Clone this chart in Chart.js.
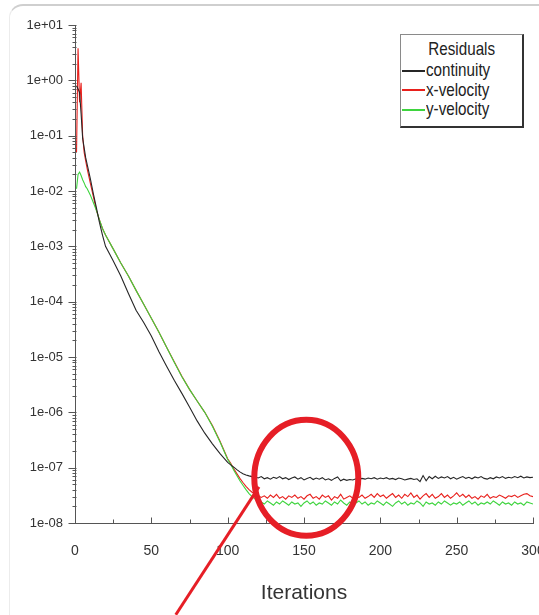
<!DOCTYPE html>
<html>
<head>
<meta charset="utf-8">
<title>Residuals</title>
<script src="https://cdn.jsdelivr.net/npm/chart.js@4.4.1/dist/chart.umd.min.js"></script>
<style>
  html, body { margin: 0; padding: 0; background: #fff; }
  #wrap { position: relative; width: 539px; height: 615px; overflow: hidden; }
  #card {
    position: absolute; left: 9px; top: 4px; width: 600px; height: 700px;
    border-top: 2px solid #cfcfcf; border-left: 1px solid #ececec;
    border-radius: 14px 0 0 0;
  }
  #chart-box { position: absolute; left: 0; top: 0; width: 539px; height: 615px; }
  #legend {
    position: absolute; left: 400px; top: 34px; width: 121px; height: 87px;
    background: #fff; border: 1px solid #8a8a8a;
    border-right: 2px solid #333; border-bottom: 2px solid #333;
    font-family: "Liberation Sans", Arial, sans-serif;
    font-size: 19px; color: #222; padding-top: 4px; box-sizing: content-box;
  }
  #legend .ttl { text-align: center; line-height: 20px; height: 20px; margin-bottom: 1px; }
  #legend .ttl span { display: inline-block; transform: scaleX(0.8); }
  #legend .row { line-height: 19.5px; height: 19.5px; white-space: nowrap; padding-left: 1px; }
  #legend .sw { display: inline-block; width: 23px; height: 2px; vertical-align: middle; margin-right: 1px; }
  #legend .lbl { display: inline-block; transform: scaleX(0.8); transform-origin: 0 50%; }
</style>
</head>
<body>
<div id="wrap">
  <div id="card"></div>
  <div id="chart-box"><canvas id="residuals"></canvas></div>
  <div id="legend"></div>
</div>
<script>
// ── Data ────────────────────────────────────────────
const LEGEND_TITLE = "Residuals";
const X_TITLE = "Iterations";

const iterations = [
  1, 2, 3, 4, 5, 6, 7, 8, 10, 12,
  14, 16, 18, 20, 25, 30, 35, 40, 45, 50,
  55, 60, 65, 70, 75, 80, 85, 90, 95,
  100, 102, 104, 106, 108, 110, 112, 114, 116, 118,
  120, 122, 124, 126, 128, 130, 132, 134, 136, 138,
  140, 142, 144, 146, 148, 150, 152, 154, 156, 158,
  160, 162, 164, 166, 168, 170, 172, 174, 176, 178,
  180, 182, 184, 186, 188, 190, 192, 194, 196, 198,
  200, 202, 204, 206, 208, 210, 212, 214, 216, 218,
  220, 222, 224, 226, 228, 230, 232, 234, 236, 238,
  240, 242, 244, 246, 248, 250, 252, 254, 256, 258,
  260, 262, 264, 266, 268, 270, 272, 274, 276, 278,
  280, 282, 284, 286, 288, 290, 292, 294, 296, 298,
  300,
];

const continuity = [
  0.8, 0.7, 0.6, 0.25, 0.09, 0.06, 0.04, 0.03, 0.017, 0.009,
  0.005, 0.0027, 0.0016, 0.001, 5.5e-4, 2.9e-4, 1.4e-4, 7e-5, 4.2e-5, 2.4e-5,
  1.25e-5, 6.8e-6, 3.8e-6, 2.2e-6, 1.25e-6, 7e-7, 4.2e-7, 2.7e-7, 1.8e-7,
  1.25e-7, 1.12e-7, 1.02e-7, 9.2e-8, 8.4e-8, 7.8e-8, 7.4e-8, 7.1e-8, 6.9e-8, 6.8e-8,
  6.5e-8, 6.9e-8, 6.3e-8, 6.6e-8, 6.2e-8, 6.7e-8, 6.4e-8, 6.9e-8, 6.3e-8, 6.6e-8,
  6.1e-8, 6.5e-8, 6.8e-8, 6.2e-8, 6.6e-8, 6.0e-8, 6.4e-8, 6.7e-8, 6.1e-8, 6.5e-8,
  6.2e-8, 6.6e-8, 6.0e-8, 6.3e-8, 5.9e-8, 6.4e-8, 6.8e-8, 5.8e-8, 6.2e-8, 5.9e-8,
  6.1e-8, 6.0e-8, 6.3e-8, 6.1e-8, 6.4e-8, 6.2e-8, 6.5e-8, 6.3e-8, 6.6e-8, 6.2e-8,
  6.5e-8, 6.3e-8, 6.6e-8, 6.2e-8, 6.4e-8, 6.1e-8, 6.5e-8, 6.3e-8, 6.0e-8, 6.2e-8,
  6.4e-8, 6.1e-8, 6.3e-8, 5.6e-8, 7.2e-8, 5.8e-8, 6.9e-8, 6.3e-8, 7.0e-8, 6.4e-8,
  6.8e-8, 6.5e-8, 6.9e-8, 6.3e-8, 6.7e-8, 6.2e-8, 6.6e-8, 6.9e-8, 6.4e-8, 6.7e-8,
  6.3e-8, 6.8e-8, 6.5e-8, 6.9e-8, 6.4e-8, 6.2e-8, 6.6e-8, 6.3e-8, 6.8e-8, 6.5e-8,
  6.9e-8, 6.4e-8, 6.7e-8, 6.5e-8, 6.9e-8, 6.6e-8, 7.0e-8, 6.5e-8, 6.8e-8, 6.6e-8,
  6.7e-8,
];

const xVelocity = [
  0.05, 3.8, 0.4, 0.9, 0.1, 0.05, 0.035, 0.025, 0.014, 0.008,
  0.0045, 0.003, 0.0021, 0.0016, 9e-4, 5e-4, 2.9e-4, 1.6e-4, 9e-5, 5e-5,
  2.8e-5, 1.5e-5, 8.2e-6, 4.5e-6, 2.6e-6, 1.6e-6, 1.0e-6, 5.8e-7, 3.0e-7,
  1.45e-7, 1.2e-7, 9.5e-8, 7.8e-8, 6.4e-8, 5.4e-8, 4.6e-8, 4.0e-8, 3.6e-8, 3.3e-8,
  3.1e-8, 2.9e-8, 3.1e-8, 2.8e-8, 3.2e-8, 2.9e-8, 3.3e-8, 2.8e-8, 3.0e-8, 2.7e-8,
  3.1e-8, 2.9e-8, 3.2e-8, 2.8e-8, 3.0e-8, 2.7e-8, 3.1e-8, 3.3e-8, 2.8e-8, 3.0e-8,
  2.7e-8, 3.2e-8, 2.9e-8, 3.1e-8, 2.6e-8, 3.0e-8, 2.8e-8, 3.3e-8, 2.7e-8, 2.9e-8,
  3.1e-8, 2.8e-8, 3.0e-8, 2.9e-8, 3.2e-8, 2.8e-8, 3.0e-8, 3.3e-8, 2.9e-8, 3.4e-8,
  3.0e-8, 3.2e-8, 2.8e-8, 3.1e-8, 3.4e-8, 2.9e-8, 3.2e-8, 2.8e-8, 3.3e-8, 3.0e-8,
  3.5e-8, 2.9e-8, 3.2e-8, 2.7e-8, 3.1e-8, 3.4e-8, 2.9e-8, 3.3e-8, 2.8e-8, 3.0e-8,
  3.4e-8, 2.9e-8, 3.2e-8, 2.8e-8, 3.1e-8, 3.5e-8, 3.0e-8, 3.3e-8, 2.9e-8, 3.2e-8,
  2.8e-8, 3.0e-8, 2.7e-8, 3.1e-8, 2.9e-8, 3.3e-8, 2.8e-8, 3.0e-8, 2.9e-8, 3.2e-8,
  3.0e-8, 2.8e-8, 3.1e-8, 3.0e-8, 3.2e-8, 2.9e-8, 3.1e-8, 3.3e-8, 3.4e-8, 3.1e-8,
  3.0e-8,
];

const yVelocity = [
  0.011, 0.02, 0.022, 0.019, 0.016, 0.014, 0.012, 0.011, 0.0085, 0.0062,
  0.0045, 0.003, 0.0021, 0.0016, 9e-4, 5e-4, 2.9e-4, 1.6e-4, 9e-5, 5e-5,
  2.8e-5, 1.5e-5, 8e-6, 4.4e-6, 2.6e-6, 1.6e-6, 1.0e-6, 5.6e-7, 2.9e-7,
  1.4e-7, 1.15e-7, 9e-8, 7.2e-8, 5.8e-8, 4.8e-8, 4.0e-8, 3.4e-8, 3.0e-8, 2.7e-8,
  2.5e-8, 2.4e-8, 2.2e-8, 2.5e-8, 2.3e-8, 2.1e-8, 2.4e-8, 2.2e-8, 2.5e-8, 2.3e-8,
  2.1e-8, 2.4e-8, 2.2e-8, 2.3e-8, 2.0e-8, 2.3e-8, 2.5e-8, 2.2e-8, 2.4e-8, 2.1e-8,
  2.3e-8, 2.2e-8, 2.5e-8, 2.3e-8, 2.1e-8, 2.4e-8, 2.2e-8, 2.6e-8, 2.3e-8, 2.1e-8,
  2.4e-8, 2.2e-8, 2.3e-8, 2.5e-8, 2.2e-8, 2.4e-8, 2.1e-8, 2.3e-8, 2.2e-8, 2.5e-8,
  2.3e-8, 2.1e-8, 2.4e-8, 2.2e-8, 2.0e-8, 2.3e-8, 2.5e-8, 2.2e-8, 2.4e-8, 2.1e-8,
  2.3e-8, 2.2e-8, 2.5e-8, 2.3e-8, 2.0e-8, 2.4e-8, 2.2e-8, 2.3e-8, 2.1e-8, 2.4e-8,
  2.2e-8, 2.5e-8, 2.3e-8, 2.1e-8, 2.3e-8, 2.2e-8, 2.4e-8, 2.1e-8, 2.3e-8, 2.5e-8,
  2.2e-8, 2.4e-8, 2.1e-8, 2.3e-8, 2.2e-8, 2.4e-8, 2.2e-8, 2.5e-8, 2.3e-8, 2.1e-8,
  2.4e-8, 2.2e-8, 2.3e-8, 2.1e-8, 2.4e-8, 2.2e-8, 2.3e-8, 2.1e-8, 2.4e-8, 2.3e-8,
  2.2e-8,
];

const seriesNames  = ["continuity", "x-velocity", "y-velocity"];
const seriesValues = [continuity, xVelocity, yVelocity];
const seriesColors = ["#262626", "#e8201c", "#3ed43e"];

const yTickValues = [1e-8, 1e-7, 1e-6, 1e-5, 1e-4, 1e-3, 1e-2, 1e-1, 1e0, 1e1];
const yTickLabels = ["1e-08", "1e-07", "1e-06", "1e-05", "1e-04", "1e-03", "1e-02", "1e-01", "1e+00", "1e+01"];
const xMajorTicks = [0, 50, 100, 150, 200, 250, 300];
const xMinorTicks = [25, 75, 125, 175, 225, 275];

// red marker drawn over the plot (centre in data units)
const markCentre = { x: 151.5, y: 6.6e-8 };
const pointerFrom = { x: 120.5, y: 4.5e-8 };
const pointerTo   = { x: 66, y: 2.2e-10 };

// ── Styling ─────────────────────────────────────────
const FONT = "'Liberation Sans', Arial, sans-serif";
const AXIS_COLOR = "#555";
const TEXT_COLOR = "#333";

// ── Plugins ─────────────────────────────────────────
const axisTicks = {
  id: "axisTicks",
  afterDraw(chart) {
    const { ctx, scales: { x, y } } = chart;
    ctx.save();
    ctx.strokeStyle = AXIS_COLOR;
    ctx.lineWidth = 1;
    ctx.beginPath();
    const by = Math.round(y.bottom) + 0.5;
    xMajorTicks.forEach(v => {
      const px = Math.round(x.getPixelForValue(v)) + 0.5;
      ctx.moveTo(px, by); ctx.lineTo(px, by - 6);
    });
    xMinorTicks.forEach(v => {
      const px = Math.round(x.getPixelForValue(v)) + 0.5;
      ctx.moveTo(px, by); ctx.lineTo(px, by - 4);
    });
    const lx = Math.round(x.left) + 0.5;
    yTickValues.forEach((v, i) => {
      const py = Math.round(y.getPixelForValue(v)) + 0.5;
      ctx.moveTo(lx - 7, py); ctx.lineTo(lx + 1, py);
      if (i === yTickValues.length - 1) return;
      for (let m = 2; m <= 9; m++) {
        const pm = Math.round(y.getPixelForValue(v * m)) + 0.5;
        ctx.moveTo(lx - 3, pm); ctx.lineTo(lx + 1, pm);
      }
    });
    ctx.stroke();
    ctx.restore();
  },
};

const marker = {
  id: "marker",
  afterDraw(chart) {
    const { ctx, scales: { x, y } } = chart;
    ctx.save();
    ctx.strokeStyle = "#e61e26";
    ctx.lineWidth = 3;
    ctx.beginPath();
    ctx.moveTo(x.getPixelForValue(pointerFrom.x), y.getPixelForValue(pointerFrom.y));
    ctx.lineTo(x.getPixelForValue(pointerTo.x), y.getPixelForValue(pointerTo.y));
    ctx.stroke();
    ctx.lineWidth = 6;
    ctx.beginPath();
    ctx.ellipse(x.getPixelForValue(markCentre.x), y.getPixelForValue(markCentre.y), 52, 58, 0, 0, Math.PI * 2);
    ctx.stroke();
    ctx.restore();
  },
};

// ── Chart ───────────────────────────────────────────
new Chart(document.getElementById("residuals"), {
  type: "line",
  data: {
    datasets: seriesNames.map((name, i) => ({
      label: name,
      data: iterations.map((it, k) => ({ x: it, y: seriesValues[i][k] })),
      borderColor: seriesColors[i],
      borderWidth: 1.1,
      pointRadius: 0,
      tension: 0,
      order: [1, 3, 2][i],
    })),
  },
  options: {
    responsive: true,
    maintainAspectRatio: false,
    animation: false,
    events: [],
    layout: { padding: { top: 25, right: 6, bottom: 9, left: 0 } },
    plugins: { legend: { display: false }, tooltip: { enabled: false } },
    scales: {
      x: {
        type: "linear",
        min: 0, max: 300,
        grid: { display: false, drawTicks: false },
        border: { display: true, color: AXIS_COLOR, width: 1 },
        ticks: {
          stepSize: 50, autoSkip: false, maxRotation: 0, padding: 20,
          color: TEXT_COLOR, font: { family: FONT, size: 14 },
        },
        title: {
          display: true, text: X_TITLE, color: TEXT_COLOR,
          font: { family: FONT, size: 21 }, padding: { top: 0, bottom: 0 },
        },
        afterFit(scale) { scale.height = 83; scale.paddingLeft = 0; scale.paddingRight = 0; },
      },
      y: {
        type: "logarithmic",
        min: 1e-8, max: 10,
        grid: { display: false, drawTicks: false },
        border: { display: true, color: AXIS_COLOR, width: 1 },
        afterBuildTicks(scale) { scale.ticks = yTickValues.map(v => ({ value: v })); },
        ticks: {
          autoSkip: false, padding: 12,
          color: TEXT_COLOR, font: { family: FONT, size: 13 },
          callback: (v) => yTickLabels[yTickValues.indexOf(v)] ?? "",
        },
        afterFit(scale) { scale.width = 75; scale.paddingTop = 0; scale.paddingBottom = 0; },
      },
    },
  },
  plugins: [axisTicks, marker],
});

// ── Legend ──────────────────────────────────────────
const legend = document.getElementById("legend");
legend.innerHTML = `<div class="ttl"><span>${LEGEND_TITLE}</span></div>` + seriesNames.map((n, i) =>
  `<div class="row"><span class="sw" style="background:${seriesColors[i]}"></span><span class="lbl">${n}</span></div>`).join("");
</script>
</body>
</html>
